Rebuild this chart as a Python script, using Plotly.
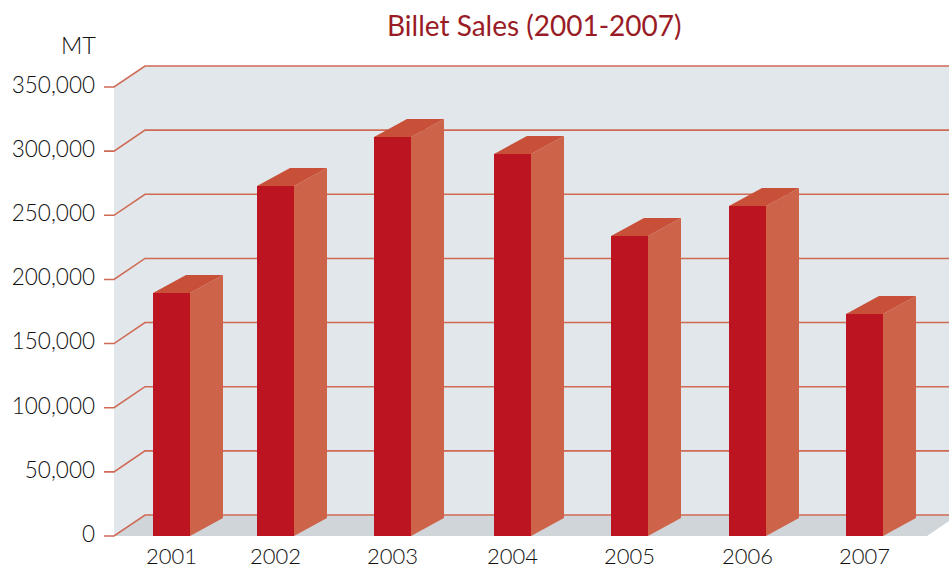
import plotly.graph_objects as go

# ---- data ----
years = ["2001", "2002", "2003", "2004", "2005", "2006", "2007"]
sales = [189500, 272800, 311000, 297800, 233900, 257200, 173000]
y_ticks = [0, 50000, 100000, 150000, 200000, 250000, 300000, 350000]
y_labels = ["0", "50,000", "100,000", "150,000", "200,000", "250,000", "300,000", "350,000"]
title_text = "Billet Sales (2001-2007)"
unit_text = "MT"

# ---- layout geometry (x axis units are pixels across the picture) ----
bar_centres = [171.5, 275.5, 392.5, 512.5, 629.5, 747.5, 864.5]
BAR_W = 37
PX_PER_UNIT = 449 / 350000
BAR_DX, BAR_DY = 33, 18 / PX_PER_UNIT
WALL_L, WALL_DX, WALL_DY = 114, 31, 21 / PX_PER_UNIT
X_MAX = 949
TICK_L = 104
AXIS_BOTTOM_PX, ZERO_PX, AXIS_TOP_PX = 537, 536, 50

FRONT = "#bc1420"
SIDE = "#cd644a"
TOP = "#c84f38"
WALL = "#e2e7eb"
FLOOR = "#d0d5da"
GRID = "#cf6a55"
TEXT = "#111111"
TITLE = "#991b26"
FONT = "Lato"


def poly(pts):
    return "M" + " L".join(f"{x},{y}" for x, y in pts) + " Z"


shapes = [
    dict(type="path", layer="below", line=dict(width=0), fillcolor=WALL,
         path=poly([(WALL_L, 350000), (WALL_L + WALL_DX, 350000 + WALL_DY),
                    (X_MAX, 350000 + WALL_DY), (X_MAX, WALL_DY),
                    (WALL_L + WALL_DX, WALL_DY), (WALL_L, 0)])),
    dict(type="path", layer="below", line=dict(width=0), fillcolor=FLOOR,
         path=poly([(WALL_L, 0), (WALL_L + WALL_DX, WALL_DY), (X_MAX, WALL_DY),
                    (X_MAX, WALL_DY * 0.72), (X_MAX - 22, 0)])),
]
for v in y_ticks:
    shapes.append(dict(
        type="path", layer="below", line=dict(width=1.6, color=GRID),
        path=f"M{TICK_L},{v} L{WALL_L},{v} L{WALL_L + WALL_DX},{v + WALL_DY} L{X_MAX},{v + WALL_DY}"))

fig = go.Figure()
fig.add_trace(go.Bar(x=bar_centres, y=sales, width=BAR_W, marker=dict(color=FRONT, line=dict(width=0)),
                     hoverinfo="skip", showlegend=False))

for c, v in zip(bar_centres, sales):
    r = c + BAR_W / 2
    l = c - BAR_W / 2
    fig.add_trace(go.Scatter(
        x=[r, r + BAR_DX, r + BAR_DX, r, r], y=[0, BAR_DY, v + BAR_DY, v, 0],
        fill="toself", fillcolor=SIDE, mode="lines", line=dict(width=0),
        hoverinfo="skip", showlegend=False))
    fig.add_trace(go.Scatter(
        x=[l, l + BAR_DX, r + BAR_DX, r, l], y=[v, v + BAR_DY, v + BAR_DY, v, v],
        fill="toself", fillcolor=TOP, mode="lines", line=dict(width=0),
        hoverinfo="skip", showlegend=False))

fig.update_layout(
    width=949, height=569,
    margin=dict(l=TICK_L, r=0, t=AXIS_TOP_PX, b=569 - AXIS_BOTTOM_PX, pad=0),
    paper_bgcolor="white", plot_bgcolor="white",
    shapes=shapes,
    font=dict(family=FONT, color=TEXT, size=22),
    xaxis=dict(range=[TICK_L, X_MAX], tickmode="array", tickvals=bar_centres, ticktext=years,
               showgrid=False, zeroline=False, showline=False, ticks="", automargin=False,
               tickfont=dict(size=22, family=FONT, weight=300), ticklabelstandoff=4),
    yaxis=dict(range=[(ZERO_PX - AXIS_BOTTOM_PX) / PX_PER_UNIT, (ZERO_PX - AXIS_TOP_PX) / PX_PER_UNIT],
               tickmode="array", tickvals=y_ticks, ticktext=y_labels,
               showgrid=False, zeroline=False, showline=False, ticks="", automargin=False,
               tickfont=dict(size=22.5, family=FONT, weight=300), ticklabelstandoff=8, ticklabelshift=-2),
    annotations=[
        dict(text=title_text, xref="paper", yref="paper", x=(534 - TICK_L) / (X_MAX - TICK_L),
             y=1 + (AXIS_TOP_PX - 25) / (AXIS_BOTTOM_PX - AXIS_TOP_PX), xanchor="center", yanchor="middle",
             showarrow=False, font=dict(size=28, color=TITLE, family=FONT)),
        dict(text=unit_text, xref="paper", yref="paper", x=(78 - TICK_L) / (X_MAX - TICK_L),
             y=1 + (AXIS_TOP_PX - 45) / (AXIS_BOTTOM_PX - AXIS_TOP_PX), xanchor="center", yanchor="middle",
             showarrow=False, font=dict(size=23.5, color=TEXT, family=FONT, weight=300)),
    ],
)
fig.write_html("out.html", config=dict(displayModeBar=False),
               post_script="document.body.style.margin='0';document.documentElement.style.overflow='hidden';")
